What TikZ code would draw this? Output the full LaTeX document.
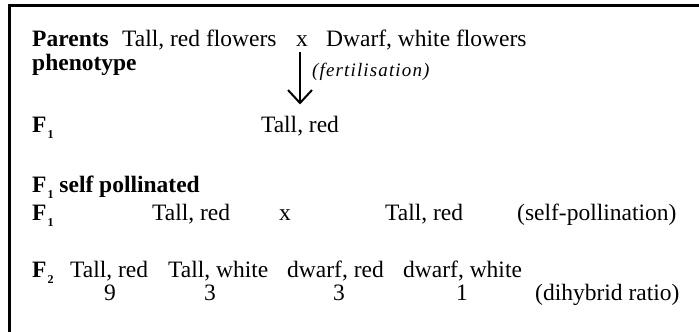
\documentclass[tikz,border=0pt]{standalone}
\usepackage{fontspec}
\setmainfont{Liberation Serif}
\usetikzlibrary{arrows.meta}
\newcommand{\filial}[1]{F\kern1pt\raisebox{-6pt}{\fontsize{12}{12}\selectfont\bfseries #1}}

\begin{document}
\begin{tikzpicture}[x=1pt,y=-1pt,
    txt/.style={anchor=base west,inner sep=0pt,font=\fontsize{23.5}{28}\selectfont},
    hd/.style={txt,font=\fontsize{23.5}{28}\selectfont\bfseries},
    num/.style={txt,anchor=base}]
\useasboundingbox (0,0) rectangle (699,332);
\draw[line width=3pt] (9,332) -- (9,5.5) -- (699,5.5);

\begin{scope}
    \node (Par)[hd] at (32,46) {Parents};
    \node (PT)[txt] at (122,46) {Tall, red flowers};
    \node (X1)[num] at (302,46) {x};
    \node (PD)[txt] at (326,46) {Dwarf, white flowers};
    \node (Phe)[hd] at (32,70) {phenotype};
    \node (Fer)[txt,font=\fontsize{19}{22}\selectfont\itshape\addfontfeatures{LetterSpace=6}] at (312,76) {(fertilisation)};
    \node (F1)[hd] at (32,132) {\filial{1}};
    \node (FT)[num] at (300,132) {Tall, red};
\end{scope}

\begin{scope}
    \node (S1)[hd] at (32,192) {\filial{1} self pollinated};
    \node (S2)[hd] at (32,220) {\filial{1}};
    \node (ST1)[txt] at (152,220) {Tall, red};
    \node (X2)[num] at (285,220) {x};
    \node (ST2)[txt] at (385,220) {Tall, red};
    \node (SP)[txt] at (517,220) {(self-pollination)};
\end{scope}

\begin{scope}
    \node (F2)[hd] at (32,277) {\filial{2}};
    \node (G1)[txt] at (70,277) {Tall, red};
    \node (G2)[txt] at (168,277) {Tall, white};
    \node (G3)[txt] at (287,277) {dwarf, red};
    \node (G4)[txt] at (403,277) {dwarf, white};
    \node (N1)[num] at (110,300) {9};
    \node (N2)[num] at (210,300) {3};
    \node (N3)[num] at (339,300) {3};
    \node (N4)[num] at (462,300) {1};
    \node (R)[txt] at (535,300) {(dihybrid ratio)};
\end{scope}

\draw[-{Straight Barb[length=13pt,width=24pt]},line width=2pt,shorten <=6pt,shorten >=11pt]
    (X1.south -| FT.north) -- (FT.north);
\end{tikzpicture}
\end{document}
